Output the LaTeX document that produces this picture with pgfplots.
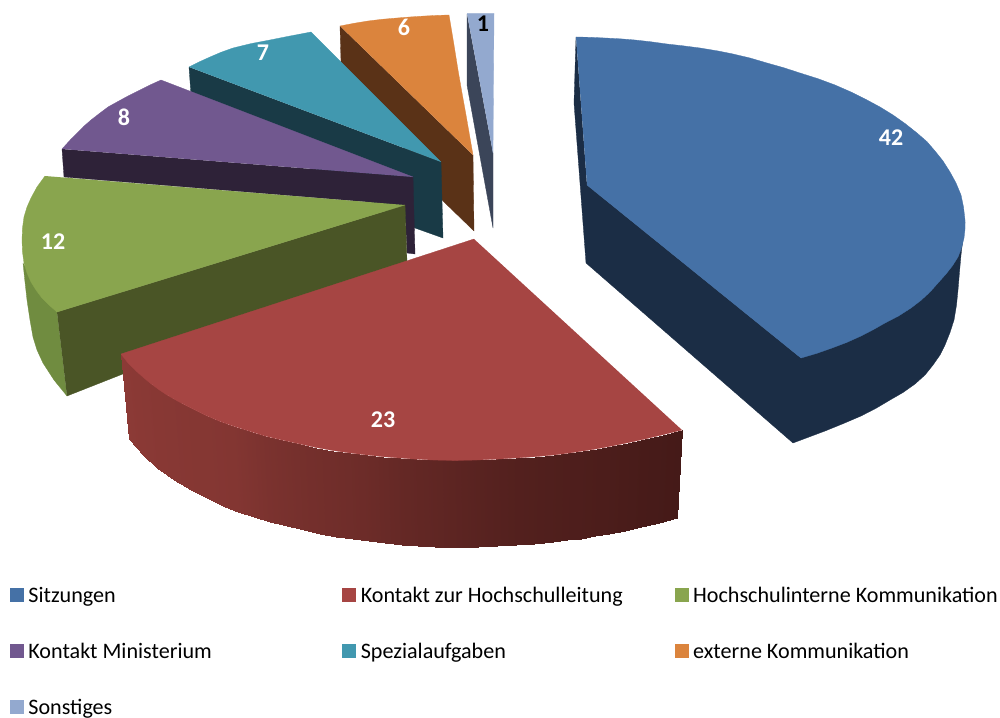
\documentclass[border=0pt]{standalone}
\usepackage{pgfplots}
\pgfplotsset{compat=1.18}
\usepackage{fontspec}
\setmainfont{Carlito}
\definecolor{cBlue}{HTML}{4571A6}\definecolor{dBlue}{HTML}{1B2D45}
\definecolor{cRed}{HTML}{A64543}
\definecolor{cGreen}{HTML}{89A54E}\definecolor{dGreen}{HTML}{4A5526}\definecolor{mGreen}{HTML}{708C40}
\definecolor{cPurple}{HTML}{71588F}\definecolor{dPurple}{HTML}{2E2238}
\definecolor{cTeal}{HTML}{4198AF}\definecolor{dTeal}{HTML}{193A46}
\definecolor{cOrange}{HTML}{DB843D}\definecolor{dOrange}{HTML}{5A3217}
\definecolor{cLight}{HTML}{93A9CF}\definecolor{dLight}{HTML}{3B4559}
\newcommand{\poly}[2]{\addplot[fill=#1,draw=#1,line width=0.3pt,line join=round,forget plot] coordinates {#2};}
\newcommand{\lbl}[3][white]{\node[text=#1,font=\fontsize{24}{24}\selectfont\bfseries] at (axis cs:#2) {#3};}
\newcommand{\ent}[1]{\addlegendentry{\makebox[304pt][l]{\fontsize{22.1}{23}\selectfont\strut #1}}}
\newcommand{\sq}[1]{\addlegendimage{legend image code/.code={\fill[#1] (0pt,-6pt) rectangle (13pt,7pt);}}}
\begin{document}
\begin{tikzpicture}
\useasboundingbox (0,0) rectangle (1000pt,717pt);
\begin{axis}[at={(0,0)},anchor=south west,scale only axis,width=1000pt,height=717pt,
  xmin=0,xmax=1000,ymin=0,ymax=717,y dir=reverse,axis lines=none,clip=false,
  colormap={redside}{rgb255=(69,26,24) rgb255=(140,58,54)},
  point meta min=0,point meta max=1,
  legend columns=3,
  legend style={at={(axis cs:10,584)},anchor=north west,draw=none,fill=none,inner sep=0pt,outer sep=0pt,
    /tikz/every even column/.append style={column sep=8pt},
    /tikz/every odd column/.append style={column sep=3pt},
    /tikz/row sep=34.5pt,legend cell align=left}]
% light blue
\poly{dLight}{(467,14)(467,85)(493,228)(493,153)}
\poly{cLight}{(467,13.5)(494,13.5)(493,153)}
% orange
\poly{dOrange}{(340,26)(341,62)(442,200)(474,231)(473,155)}
\poly{cOrange}{(340,26)(354,23.3)(368,21)(382,19.3)(397,18)(411,16.9)(425,16)(437,15.4)(449,15)(454,45)(458,70)(462,93)(466,115)(473,155)}
% teal
\poly{dTeal}{(189,67)(191,95)(415,228)(443,238)(441,162)}
\poly{cTeal}{(189,67)(199,62)(210,57)(221,52.3)(233,48)(251,43.6)(270,40)(290,36)(311,32)(441,162)}
% purple
\poly{dPurple}{(62,149)(64,177)(405,205)(407,253)(415,254)(413,177)}
\poly{cPurple}{(62,149)(72,138)(83,127)(91,120)(100,113)(108,107)(117,102)(128,96)(140,90)(150,85)(161,80)(413,177)}
% green
\poly{mGreen}{(23,263)(25,282)(27,300)(30,320)(33,337)(37,350)(43,363)(54,380)(67,396)(57,312)}
\poly{dGreen}{(57,312)(405,205)(407,262)(67,396)}
\poly{cGreen}{(45,176)(37,187)(31,198)(27,207)(24,217)(22.5,228)(22,240)(22.5,252)(24,263)(27,273)(31,282)(36,290)(42,298)(49,305)(57,312)(405,205)}
% red side
\addplot[surf,shader=interp,mesh/cols=2,mesh/ordering=x varies,point meta=explicit,forget plot] table[meta=m] {
x y m
121 354 1
129 439 1
135 370 .97
142.7 455 .97
150 383 .95
157.3 468 .95
167 395 .93
174 480 .93
185 405 .91
191.5 490 .91
205 415 .9
211 500 .9
219 421 .885
224.5 506.5 .885
233 426 .87
238.4 512 .87
249 431 .815
254 517 .815
265 436 .76
269.7 522 .76
282 440 .72
286.8 526 .72
300 444 .68
303.9 530 .68
316 447.5 .65
320 534 .65
333 450.5 .62
336 537 .62
350 453 .585
352.7 539.3 .585
367 455 .55
369.3 541 .55
383 456.7 .5
385.4 543 .5
400 458 .45
401.5 544.5 .45
416 459.2 .415
418 546 .415
433 460 .38
434.8 547 .38
455 460.4 .33
456.3 547.5 .33
477 460 .28
477.8 547 .28
496 459.2 .24
496.8 546.2 .24
516 458 .2
515.8 545 .2
535 456.7 .175
534.4 543.7 .175
554 455 .15
552.9 542 .15
568 453.2 .135
567 540.4 .135
583 451 .12
581.3 538.5 .12
597 448.8 .105
595 536.2 .105
612 446 .09
608.6 533.6 .09
628 442.7 .065
624.8 530.5 .065
645 439 .04
640.9 527 .04
663 434.7 .02
659 522.7 .02
682 430 0
677 518 0
};
\poly{cRed}{(474,239)(121,354)(127.5,362.3)(135,370)(142.5,376.7)(150,383)(158.3,389.2)(167,395)(176,400.2)(185,405)(195,410)(205,415)(219,421)(233,426)(249,431)(265,436)(282,440)(300,444)(316,447.5)(333,450.5)(350,453)(367,455)(383,456.7)(400,458)(416,459.2)(433,460)(455,460.4)(477,460)(496,459.2)(516,458)(535,456.7)(554,455)(568,453.2)(583,451)(597,448.8)(612,446)(628,442.7)(645,439)(663,434.7)(682,430)}
% blue
\poly{dBlue}{(576,37)(574,103)(586,263)(793,443)(809,437)(825,431)(843,423.7)(861,416)(876,408.3)(890,400)(903,392.5)(915,384)(925,375)(933,365)(940,355)(945,345)(950,332.5)(954,320)(956.5,305)(958,290)(959.5,272)(961,255)(965,222)(801,358)(587,185)}
\poly{cBlue}{(576,37)(590,37.3)(605,38)(620,38.8)(635,40)(651,41.8)(667,44)(683,45.8)(700,48)(717,50.8)(733,54)(750,58)(767,63)(784,67.8)(800,73)(818,78.7)(835,85)(851,92)(867,100)(880,107)(893,115)(905,123.5)(917,133)(927,141.7)(935,151)(943,161)(950,172)(956,183)(961,195)(963.5,207)(965,220)(965,229)(964,238)(961.5,248)(958,257)(952.5,265.7)(946,274)(938,283)(930,292)(921,300.3)(911,308)(898.5,316)(885,323)(873,329.8)(861,336)(847,342.3)(832,348)(817,353.3)(801,358)(587,185)}
\lbl{891,138}{42}
\lbl{383,420}{23}
\lbl{53,242}{12}
\lbl{124,117}{8}
\lbl{263,53}{7}
\lbl{404,27}{6}
\lbl[black]{483,24}{1}
\sq{cBlue}\ent{Sitzungen}
\sq{cRed}\ent{Kontakt zur Hochschulleitung}
\sq{cGreen}\ent{Hochschulinterne Kommunikation}
\sq{cPurple}\ent{Kontakt Ministerium}
\sq{cTeal}\ent{Spezialaufgaben}
\sq{cOrange}\ent{externe Kommunikation}
\sq{cLight}\ent{Sonstiges}
\end{axis}
\end{tikzpicture}
\end{document}
